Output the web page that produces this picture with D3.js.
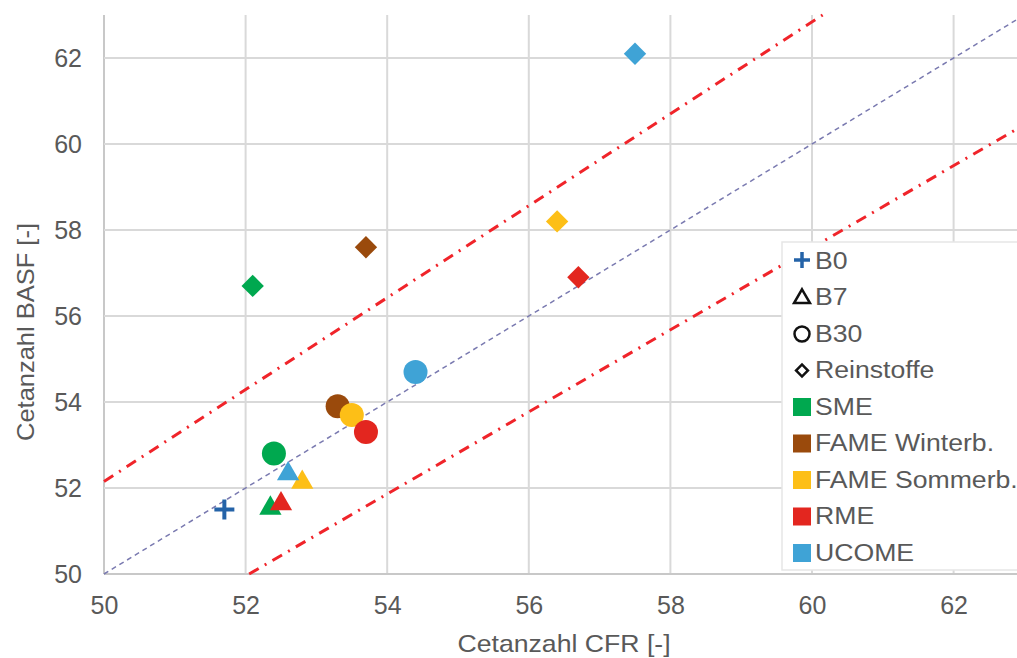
<!DOCTYPE html>
<html>
<head>
<meta charset="utf-8">
<script src="https://cdn.jsdelivr.net/npm/d3@7"></script>
<style>
  body { margin: 0; background: #fff; }
  svg { display: block; font-family: "Liberation Sans", Arial, sans-serif; }
</style>
</head>
<body>
<div id="chart"></div>
<script>
// fuel groups (colour) and blend levels (marker shape)
const fuels = ["SME", "FAME Winterb.", "FAME Sommerb.", "RME", "UCOME"];
const fuelColors = ["#00a84f", "#9a4a0c", "#fdbf17", "#e3261f", "#3fa3d6"];

const b0X = [51.7];
const b0Y = [51.5];
const b7X = [52.35, null, 52.8, 52.5, 52.6];
const b7Y = [51.6, null, 52.2, 51.7, 52.4];
const b30X = [52.4, 53.3, 53.5, 53.7, 54.4];
const b30Y = [52.8, 53.9, 53.7, 53.3, 54.7];
const pureX = [52.1, 53.7, 56.4, 56.7, 57.5];
const pureY = [56.7, 57.6, 58.2, 56.9, 62.1];

// reference lines
const upperLine = [[50, 52.15], [60.15, 63]];
const lowerLine = [[52.05, 50], [63, 60.45]];
const diagLine = [[50, 50], [63, 63]];

const ticks = [50, 52, 54, 56, 58, 60, 62];
const legendLabels = ["B0", "B7", "B30", "Reinstoffe"].concat(fuels);

const width = 1017, height = 658;
const svg = d3.select("#chart").append("svg")
  .attr("width", width).attr("height", height);

const x = d3.scaleLinear().domain([50, 63]).range([104, 1024.4]);
const y = d3.scaleLinear().domain([50, 63]).range([574, 15]);

const textColor = "#595959";
const gridColor = "#d9d9d9";

// grid
svg.append("g").selectAll("line").data(ticks).join("line")
  .attr("x1", d => x(d)).attr("x2", d => x(d))
  .attr("y1", y(63)).attr("y2", y(50))
  .attr("stroke", d => d === 50 ? "#c8c8c8" : gridColor).attr("stroke-width", 2);
svg.append("g").selectAll("line").data(ticks).join("line")
  .attr("x1", x(50)).attr("x2", width)
  .attr("y1", d => y(d)).attr("y2", d => y(d))
  .attr("stroke", d => d === 50 ? "#c8c8c8" : gridColor).attr("stroke-width", 2);

// axes (labels only, lines come from grid)
const xAxis = svg.append("g").attr("transform", `translate(0,${y(50)})`)
  .call(d3.axisBottom(x).tickValues(ticks).tickSize(0).tickPadding(22));
const yAxis = svg.append("g").attr("transform", `translate(${x(50)},0)`)
  .call(d3.axisLeft(y).tickValues(ticks).tickSize(0).tickPadding(22));
[xAxis, yAxis].forEach(a => {
  a.select(".domain").remove();
  a.selectAll("text").attr("fill", textColor).attr("font-size", 25)
    .attr("font-family", "Liberation Sans, Arial, sans-serif");
});

// axis titles
svg.append("text").attr("transform", "translate(564,652) scale(1.11,1)")
  .attr("text-anchor", "middle")
  .attr("font-size", 24).attr("fill", textColor).text("Cetanzahl CFR [-]");
svg.append("text").attr("transform", "translate(34,332) rotate(-90) scale(1.04,1)")
  .attr("text-anchor", "middle").attr("font-size", 24.5).attr("fill", textColor)
  .text("Cetanzahl BASF [-]");

// lines
const line = d3.line().x(d => x(d[0])).y(d => y(d[1]));
svg.append("path").datum(diagLine).attr("d", line)
  .attr("fill", "none").attr("stroke", "#7a7ab0").attr("stroke-width", 1.5)
  .attr("stroke-dasharray", "5,4");
[upperLine, lowerLine].forEach(l => {
  svg.append("path").datum(l).attr("d", line)
    .attr("fill", "none").attr("stroke", "#f0242a").attr("stroke-width", 3)
    .attr("stroke-dasharray", "11,7,2,7");
});

// markers
const circle = d3.symbol().type(d3.symbolCircle).size(Math.PI * 12 * 12);
const tri = d3.symbol().type(d3.symbolTriangle).size(215);
const diamond = d3.symbol().type(d3.symbolSquare).size(250);
const plusPath = r => `M${-r},0H${r}M0,${-r}V${r}`;

const pts = (xs, ys) => xs.map((v, i) => ({ x: v, y: ys[i], c: fuelColors[i] }))
  .filter(d => d.x != null);

svg.append("g").selectAll("path").data(pts(b30X, b30Y)).join("path")
  .attr("d", circle).attr("fill", d => d.c)
  .attr("transform", d => `translate(${x(d.x)},${y(d.y)})`);
svg.append("g").selectAll("path").data(pts(b7X, b7Y)).join("path")
  .attr("d", tri).attr("fill", d => d.c)
  .attr("transform", d => `translate(${x(d.x)},${y(d.y) + 3})`);
svg.append("g").selectAll("path").data(pts(pureX, pureY)).join("path")
  .attr("d", diamond).attr("fill", d => d.c)
  .attr("transform", d => `translate(${x(d.x)},${y(d.y)}) rotate(45)`);
svg.append("g").selectAll("path").data(b0X.map((v, i) => ({ x: v, y: b0Y[i] }))).join("path")
  .attr("d", plusPath(10)).attr("fill", "none").attr("stroke", "#2463a8").attr("stroke-width", 4)
  .attr("transform", d => `translate(${x(d.x)},${y(d.y)})`);

// legend
const lg = svg.append("g").attr("transform", "translate(782,242)");
lg.append("rect").attr("width", 250).attr("height", 328)
  .attr("fill", "#fff").attr("stroke", "#e6e6e6").attr("stroke-width", 1.5);
const rowH = 36.5;
const items = lg.selectAll("g").data(legendLabels).join("g")
  .attr("transform", (d, i) => `translate(0,${18 + i * rowH})`);
items.append("text").attr("transform", "translate(33,8.5) scale(1.11,1)")
  .attr("font-size", 24).attr("fill", textColor).text(d => d);
items.each(function (d, i) {
  const g = d3.select(this);
  if (i === 0) {
    g.append("path").attr("d", plusPath(8)).attr("transform", "translate(20,0)")
      .attr("fill", "none").attr("stroke", "#2463a8").attr("stroke-width", 3.5);
  } else if (i === 1) {
    g.append("path").attr("d", d3.symbol().type(d3.symbolTriangle).size(110))
      .attr("transform", "translate(20,2)").attr("fill", "none").attr("stroke", "#111").attr("stroke-width", 2.5);
  } else if (i === 2) {
    g.append("circle").attr("cx", 20).attr("cy", 1).attr("r", 7.5)
      .attr("fill", "none").attr("stroke", "#111").attr("stroke-width", 2.5);
  } else if (i === 3) {
    g.append("path").attr("d", d3.symbol().type(d3.symbolSquare).size(70))
      .attr("transform", "translate(20,1) rotate(45)").attr("fill", "none")
      .attr("stroke", "#111").attr("stroke-width", 2.5);
  } else {
    g.append("rect").attr("x", 11).attr("y", -8).attr("width", 18).attr("height", 18)
      .attr("fill", fuelColors[i - 4]);
  }
});
</script>
</body>
</html>
